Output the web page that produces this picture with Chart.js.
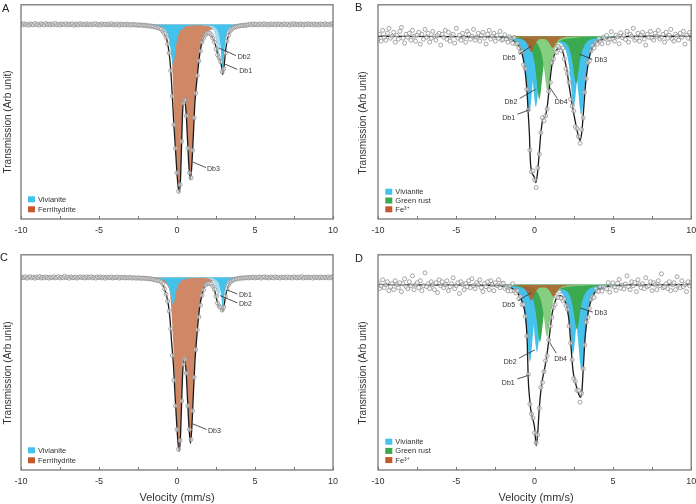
<!DOCTYPE html>
<html><head><meta charset="utf-8">
<script src="https://cdn.jsdelivr.net/npm/chart.js@4/dist/chart.umd.min.js"></script>
<style>
html,body{margin:0;padding:0;background:#fff;overflow:hidden;width:696px;height:504px;}
canvas{position:absolute;}
</style></head><body>
<canvas id="cA" width="346" height="250" style="left:0;top:0;width:346px;height:250px"></canvas>
<canvas id="cB" width="350" height="250" style="left:346px;top:0;width:350px;height:250px"></canvas>
<canvas id="cC" width="346" height="254" style="left:0;top:250px;width:346px;height:254px"></canvas>
<canvas id="cD" width="350" height="254" style="left:346px;top:250px;width:350px;height:254px"></canvas>
<script>
// ---------- DATA ----------
const velocityTickValues = [-10, -5, 0, 5, 10];
const velocityTickLabels = ['-10', '-5', '0', '5', '10'];
const channelStart = -10, channelStep = 0.1;

// measured spectra (transmission, arb. units; baseline = 100)
const countsA = [
100.05,99.95,100.08,99.98,100.02,99.92,100.06,100.0,99.96,100.1,
99.97,100.04,99.93,100.07,100.01,99.95,100.09,99.98,100.03,99.94,
100.06,99.99,100.1,99.96,100.02,99.93,100.05,100.0,99.97,100.08,
99.95,100.03,99.98,100.06,99.92,100.04,100.0,99.96,100.09,99.98,
100.02,99.95,100.07,99.97,100.03,99.94,100.05,99.99,100.08,99.96,
100.01,99.93,100.06,99.98,100.03,99.95,100.04,99.97,100.07,99.94,
100.0,99.96,100.05,99.92,100.03,99.97,100.01,99.94,100.04,99.95,
99.98,99.93,100.02,99.95,99.97,99.91,99.96,99.93,99.9,99.92,
99.9,99.85,99.87,99.82,99.83,99.77,99.76,99.69,99.67,99.58,
99.52,99.28,99.07,98.68,98.02,97.1,95.3,92.7,89.8,87.4,
84.9,83.0,83.7,88.1,92.0,92.3,90.7,87.4,84.9,84.4,
87.2,90.5,93.0,94.8,96.3,97.3,98.2,98.6,98.9,99.1,
99.15,99.1,98.95,98.6,98.2,97.5,96.9,96.6,96.2,95.2,
95.5,97.1,98.3,98.9,99.3,99.5,99.65,99.72,99.78,99.82,
99.85,99.9,99.88,99.93,99.9,99.95,
99.97,100.03,99.95,100.06,99.98,100.02,99.94,100.05,100.0,99.96,
100.08,99.97,100.03,99.93,100.06,99.99,100.02,99.95,100.07,99.98,
100.04,99.94,100.01,100.06,99.96,100.03,99.92,100.05,99.98,100.09,
99.97,100.02,99.95,100.06,100.0,99.94,100.04,99.97,100.08,99.99,
100.03,99.95,100.06,99.98,100.02,99.93,100.05,100.0,99.96,100.07,
99.98,100.03,99.95,100.05,100.1];

const countsB = [
99.7,100.2,99.5,100.6,99.9,99.6,100.3,100.8,99.8,100,
100.4,99.4,100.1,99.7,100.5,100.9,99.8,99.3,100.2,99.9,
100.3,99.6,100.6,100,99.5,100.1,100.4,99.2,100.2,99.7,
100.7,99.9,100.3,99.4,99.8,100.5,100,99.6,100.1,100.3,
99.1,100.2,99.9,100.6,99.7,100.4,99.5,100,100.2,99.3,
100.8,99.8,100.1,99.6,100.3,99.9,99.4,100.5,100.2,99.7,
100,100.7,99.6,99.9,100.3,99.5,100.1,100.4,99.8,99.2,
100.2,100.6,99.7,100,100.3,99.5,100.1,99.8,100.5,99.6,
99.68,100.15,99.72,99.39,99.95,99.68,99.3,99.88,99.22,99.28,
98.8,98.4,98.45,97.1,96.7,94.6,92.5,88.4,86.2,86.3,
85.4,84.6,86.6,88.0,90.2,91.7,91.4,91.9,92.6,94.4,
95.3,97.3,97.7,98.4,98.35,98.98,98.83,98.55,98.8,97.7,
96.7,96.2,95.3,93.6,92.9,92.4,90.8,90.6,89.8,89.1,
90.5,91.7,94.3,95.7,97.3,97.5,98.5,99.05,98.8,99.35,
99.2,99.8,99.47,99.24,99.9,99.74,
100.08,99.31,99.74,100.46,99.68,99.5,100.12,99.93,99.24,100.36,
99.86,100.07,99.67,100.5,99.4,100.2,100,100.8,99.6,99.8,
100.3,99.5,100.1,100.4,99.7,99.1,100.2,99.9,100.5,99.8,
99.6,100.3,100,100.6,99.7,99.9,100.2,99.4,100.4,99.8,
100.1,100.7,99.7,99.5,100.2,100,99.6,100.3,99.9,100.5,
99.2,100.1,99.8,100.4,99.7];

const countsC = [
99.96,100.04,99.98,100.07,99.94,100.02,100.08,99.97,100.03,99.93,
100.05,99.99,100.1,99.95,100.02,99.96,100.06,100.0,99.94,100.04,
99.98,100.07,99.96,100.01,100.09,99.95,100.03,99.97,100.12,99.98,
100.04,99.93,100.06,100.0,99.97,100.05,99.94,100.02,100.07,99.98,
100.03,99.95,100.06,99.97,100.01,100.08,99.96,100.03,99.94,100.05,
99.99,100.06,99.96,100.02,99.93,100.04,100.0,99.97,100.06,99.95,
100.02,99.98,100.05,99.94,100.01,99.97,100.03,99.95,99.99,99.96,
100.01,99.94,99.98,99.96,99.93,99.97,99.94,99.92,99.95,99.92,
99.91,99.9,99.88,99.86,99.84,99.8,99.76,99.72,99.7,99.66,
99.55,99.35,98.85,98.3,97.6,96.6,94.8,92.1,89.6,87.0,
84.6,82.6,83.5,87.5,91.2,91.7,90.3,87.0,84.6,83.6,
86.5,89.9,92.7,94.7,96.0,97.2,98.2,98.75,99.2,99.35,
99.42,99.4,99.35,99.1,98.8,98.1,97.4,97.1,96.95,96.7,
97.0,98.1,98.85,99.25,99.5,99.65,99.75,99.82,99.85,99.9,
99.92,99.95,99.93,99.97,99.95,100.0,
99.96,100.02,99.98,100.05,99.95,100.03,99.99,100.06,99.94,100.02,
100.07,99.97,100.03,99.95,100.05,100.0,99.96,100.08,99.98,100.02,
99.94,100.05,99.99,100.03,99.96,100.07,99.97,100.02,99.95,100.06,
100.0,99.96,100.04,99.98,100.08,99.95,100.03,99.97,100.05,99.99,
100.02,99.94,100.06,99.98,100.03,99.96,100.05,100.0,99.97,100.04,
99.98,100.06,99.96,100.03,100.08];

const countsD = [
100.2,99.6,99.9,100.5,99.7,100,100.3,99.4,99.8,100.1,
99.5,100.4,100,99.7,100.2,99.3,100.1,100.6,99.8,99.6,
100.3,99.9,100.9,99.5,100,100.2,99.7,100.4,99.4,99.9,
101.2,99.8,100.1,99.6,100.3,100,99.5,100.2,99.2,100.5,
99.9,100.3,99.7,100,100.4,99.4,99.8,100.1,100.7,99.6,
99.9,100.2,99.1,100.3,100,99.5,100.1,99.8,100.4,99.7,
100.6,99.9,99.6,100.2,100,100.5,99.7,99.3,100.1,99.8,
100.3,99.5,100.4,100,99.4,100.2,99.9,100.5,99.7,100.1,
100.15,99.63,99.8,99.37,99.83,99.38,100.1,99.4,99.17,99.4,
98.6,98.8,98.0,98.0,96.8,94.8,90.9,87.9,86.9,86.5,
85.0,84.0,84.8,87.5,89.6,90.1,91.2,92.3,92.8,94.4,
95.8,96.7,97.7,98.0,98.8,98.7,99.3,98.65,98.4,98.55,
97.9,97.5,95.8,94.1,92.4,90.5,90.2,89.3,89.3,88.1,
89.0,91.5,93.9,96.2,96.7,97.6,98.5,98.8,98.7,99.6,
99.35,99.33,99.8,99.35,99.8,99.74,
99.58,100.21,99.24,99.86,100.18,99.8,99.42,100.13,100.54,99.66,
99.96,99.57,100.07,100.9,99.8,99.5,100.3,99.9,100.2,99.3,
100.5,100,99.7,100.1,99.6,100.7,99.8,99.9,100.3,99.4,
100.2,100,99.5,100.4,99.9,101.1,99.7,99.8,100.1,99.6,
100.3,99.4,100,100.2,99.5,100.8,99.9,99.7,100.4,99.8,
100,99.3,100.3,99.9,100.2];

// fitted envelopes [velocity, transmission]
const fitA = [[-10,100],[-6,99.99],[-4,99.97],[-3,99.95],[-2,99.88],[-1.5,99.79],[-1.1,99.6],[-0.88,99.27],[-0.68,98.6],[-0.57,97.8],[-0.45,96.3],[-0.35,94.1],[-0.28,92.1],[-0.2,89.8],[-0.09,87.1],[0.02,84.4],[0.13,82.9],[0.22,84.1],[0.3,88.1],[0.36,91.1],[0.47,92.4],[0.58,91.1],[0.68,88.1],[0.77,85.4],[0.86,84.2],[0.94,85.4],[1.05,88.8],[1.15,92.1],[1.26,94.1],[1.37,95.8],[1.47,97.1],[1.62,98.3],[1.79,98.9],[1.97,99.15],[2.15,99.05],[2.3,98.6],[2.45,98.0],[2.56,97.3],[2.65,96.7],[2.76,96.4],[2.87,95.6],[2.93,94.9],[3.02,95.8],[3.12,97.4],[3.25,98.6],[3.4,99.3],[3.6,99.65],[4,99.85],[4.5,99.93],[5,99.96],[7,99.99],[10,100]];
const fitB = [[-10,100],[-5,99.97],[-3,99.93],[-2.1,99.9],[-1.56,99.73],[-1.25,99.4],[-1.03,99.07],[-0.82,98.33],[-0.65,97.0],[-0.5,94.7],[-0.4,92.0],[-0.33,90.0],[-0.27,87.3],[-0.18,86.2],[-0.03,85.7],[0.08,85.1],[0.18,86.0],[0.29,88.0],[0.39,90.0],[0.52,91.5],[0.67,91.8],[0.82,93.0],[0.95,95.0],[1.1,97.0],[1.27,98.2],[1.46,98.73],[1.63,98.83],[1.84,98.2],[2.06,96.5],[2.27,94.3],[2.48,92.3],[2.7,90.5],[2.8,89.8],[2.91,89.4],[3.01,90.2],[3.12,92.3],[3.23,94.7],[3.37,96.7],[3.55,98.2],[3.76,99.0],[4.08,99.5],[4.72,99.83],[5.57,99.97],[7,100],[10,100]];
const fitC = [[-10,100],[-6,99.99],[-4,99.97],[-3,99.95],[-2,99.9],[-1.5,99.8],[-1.1,99.67],[-0.8,98.83],[-0.58,97.5],[-0.45,95.83],[-0.35,93.5],[-0.23,91.2],[-0.13,88.2],[-0.02,85.2],[0.13,82.4],[0.22,83.8],[0.3,87.5],[0.36,90.2],[0.47,91.8],[0.58,90.5],[0.68,87.5],[0.77,84.8],[0.86,83.2],[0.94,84.5],[1.05,88.2],[1.15,91.5],[1.26,93.8],[1.37,95.8],[1.47,97.2],[1.62,98.3],[1.79,99.2],[2.0,99.4],[2.22,99.3],[2.39,98.8],[2.54,97.8],[2.65,97.2],[2.76,97.0],[2.87,96.8],[2.93,96.6],[3.02,97.2],[3.12,98.2],[3.25,99.0],[3.4,99.5],[3.6,99.77],[4.05,99.93],[5,99.97],[7,99.99],[10,100]];
const fitD = [[-10,100],[-5,99.97],[-3,99.93],[-2,99.85],[-1.52,99.7],[-1.1,99.2],[-0.78,98.2],[-0.57,96.6],[-0.47,94.2],[-0.41,90.6],[-0.32,88.5],[-0.24,87.3],[-0.1,86.3],[0.0,85.5],[0.1,83.7],[0.2,85.0],[0.3,87.5],[0.45,89.9],[0.65,91.6],[0.76,92.6],[0.95,94.9],[1.12,97.1],[1.33,98.4],[1.65,98.9],[1.97,98.2],[2.18,96.6],[2.33,93.6],[2.46,91.2],[2.6,90.1],[2.82,88.9],[2.92,88.6],[3.02,89.2],[3.11,91.6],[3.24,94.9],[3.39,96.9],[3.56,98.2],[3.84,99.2],[4.3,99.7],[5,99.88],[6,99.97],[10,100]];

// sub-spectra [velocity, transmission]
const ferrihydriteA = [[-10,100],[-4,99.97],[-3,99.95],[-2,99.9],[-1.5,99.85],[-1.1,99.8],[-0.88,99.7],[-0.68,99.5],[-0.57,99.2],[-0.45,98.6],[-0.35,97.2],[-0.28,95.0],[-0.2,91.5],[-0.09,87.5],[0.02,84.6],[0.13,83.0],[0.22,84.2],[0.3,88.2],[0.36,91.2],[0.47,92.5],[0.58,91.2],[0.68,88.2],[0.77,85.5],[0.86,84.3],[0.94,85.5],[1.05,88.9],[1.15,92.2],[1.26,94.2],[1.37,95.9],[1.47,97.2],[1.62,98.35],[1.79,98.95],[1.94,99.25],[2.2,99.45],[2.5,99.6],[3,99.75],[3.5,99.85],[4,99.9],[5,99.95],[7,99.98],[10,100]];
const vivianiteDb1A = [[-10,100],[-3,99.98],[-1.45,99.89],[-0.85,99.58],[-0.6,98.97],[-0.45,97.9],[-0.35,96.64],[-0.25,95.8],[-0.15,96.64],[-0.05,97.9],[0.1,98.97],[0.35,99.58],[0.95,99.89],[1.5,99.93],[2.03,99.9],[2.48,99.63],[2.68,98.98],[2.8,97.6],[2.865,96.16],[2.93,95.2],[2.995,96.16],[3.06,97.6],[3.18,98.98],[3.38,99.63],[3.83,99.9],[5,99.98],[10,100]];
const vivianiteDb2A = [[-10,100],[1.0,99.98],[1.65,99.93],[2.15,99.74],[2.37,99.31],[2.5,98.45],[2.575,97.52],[2.65,96.9],[2.725,97.52],[2.8,98.45],[2.93,99.31],[3.15,99.74],[3.65,99.93],[5,99.99],[10,100]];

const ferrihydriteC = [[-10,100],[-4,99.97],[-3,99.95],[-2,99.9],[-1.5,99.85],[-1.1,99.78],[-0.8,99.5],[-0.58,99.1],[-0.45,98.4],[-0.35,96.5],[-0.23,93.0],[-0.13,89.0],[-0.02,85.5],[0.13,82.6],[0.22,84.0],[0.3,87.7],[0.36,90.4],[0.47,92.0],[0.58,90.7],[0.68,87.7],[0.77,85.0],[0.86,83.4],[0.94,84.7],[1.05,88.4],[1.15,91.7],[1.26,94.0],[1.37,96.0],[1.47,97.35],[1.62,98.45],[1.79,99.3],[2.0,99.52],[2.2,99.6],[2.5,99.7],[3,99.8],[3.5,99.87],[4,99.91],[5,99.95],[7,99.98],[10,100]];
const vivianiteDb1C = [[-10,100],[-3,99.99],[-1.45,99.92],[-0.85,99.72],[-0.6,99.31],[-0.45,98.6],[-0.35,97.76],[-0.25,97.2],[-0.15,97.76],[-0.05,98.6],[0.1,99.31],[0.35,99.72],[0.95,99.92],[1.5,99.95],[2.03,99.94],[2.48,99.77],[2.68,99.36],[2.8,98.5],[2.865,97.6],[2.93,97.0],[2.995,97.6],[3.06,98.5],[3.18,99.36],[3.38,99.77],[3.83,99.94],[5,99.99],[10,100]];
const vivianiteDb2C = [[-10,100],[1.0,99.99],[1.65,99.95],[2.15,99.83],[2.37,99.53],[2.5,98.95],[2.575,98.32],[2.65,97.9],[2.725,98.32],[2.8,98.95],[2.93,99.53],[3.15,99.83],[3.65,99.95],[5,99.99],[10,100]];

const vivianiteDb1B = [[-10,100],[-3,99.97],[-1.53,99.65],[-0.93,98.78],[-0.68,97.26],[-0.53,95.16],[-0.43,93.29],[-0.33,92.3],[-0.23,93.29],[-0.13,95.16],[0.02,97.26],[0.27,98.78],[0.87,99.65],[1.78,99.53],[2.38,98.4],[2.63,96.61],[2.78,94.46],[2.88,92.8],[2.98,92.0],[3.08,92.8],[3.18,94.46],[3.33,96.61],[3.58,98.4],[4.18,99.53],[6,99.97],[10,100]];
const vivianiteDb2B = [[-10,100],[-3,99.97],[-1.12,99.68],[-0.52,98.86],[-0.27,97.44],[-0.12,95.48],[-0.02,93.73],[0.08,92.8],[0.18,93.73],[0.28,95.48],[0.43,97.44],[0.68,98.86],[1.29,99.4],[1.9,98.86],[2.15,97.44],[2.3,95.48],[2.4,93.73],[2.5,92.8],[2.6,93.73],[2.7,95.48],[2.85,97.44],[3.1,98.86],[3.7,99.68],[6,99.97],[10,100]];
const greenRustB = [[-10,100],[-3,99.97],[-0.9,99.71],[-0.3,98.99],[-0.05,97.72],[0.1,95.98],[0.2,94.43],[0.3,93.6],[0.4,94.43],[0.5,95.98],[0.65,97.72],[0.9,98.99],[1.47,99.5],[2.05,99.24],[2.3,98.29],[2.45,96.99],[2.55,95.82],[2.65,95.2],[2.75,95.82],[2.85,96.99],[3.0,98.29],[3.25,99.24],[3.85,99.78],[6,99.97],[10,100]];
const greenRustDb4B = [[-10,100],[-3,99.97],[-0.38,99.75],[0.22,99.13],[0.47,98.04],[0.62,96.55],[0.72,95.21],[0.82,94.5],[0.92,95.21],[1.02,96.55],[1.17,98.04],[1.42,99.13],[2.02,99.75],[5,99.98],[10,100]];
const ferricB = [[-10,100],[-3,99.98],[-1.42,99.93],[-0.82,99.75],[-0.57,99.43],[-0.42,99.0],[-0.32,98.61],[-0.22,98.4],[-0.12,98.61],[-0.02,99.0],[0.13,99.43],[0.38,99.72],[0.55,99.72],[0.8,99.57],[0.95,99.25],[1.05,98.95],[1.15,98.8],[1.25,98.95],[1.35,99.25],[1.5,99.57],[1.75,99.81],[2.35,99.95],[5,99.99],[10,100]];

const vivianiteDb1D = [[-10,100],[-3,99.97],[-1.5,99.65],[-0.9,98.77],[-0.65,97.22],[-0.5,95.1],[-0.4,93.21],[-0.3,92.2],[-0.2,93.21],[-0.1,95.1],[0.05,97.22],[0.3,98.77],[0.9,99.65],[1.8,99.49],[2.4,98.4],[2.65,96.31],[2.8,93.98],[2.9,92.17],[3.0,91.3],[3.1,92.17],[3.2,93.98],[3.35,96.31],[3.6,98.5],[4.2,99.49],[6,99.97],[10,100]];
const vivianiteDb2D = [[-10,100],[-3,99.97],[-1.05,99.69],[-0.45,98.93],[-0.2,97.58],[-0.05,95.73],[0.05,94.08],[0.15,93.2],[0.25,94.08],[0.35,95.73],[0.5,97.58],[0.75,98.93],[1.3,99.4],[1.85,98.89],[2.1,97.51],[2.25,95.6],[2.35,93.9],[2.45,93.0],[2.55,93.9],[2.65,95.6],[2.8,97.51],[3.05,98.89],[3.65,99.68],[6,99.97],[10,100]];
const greenRustD = [[-10,100],[-3,99.97],[-0.86,99.74],[-0.26,99.08],[-0.01,97.94],[0.14,96.36],[0.24,94.95],[0.34,94.2],[0.44,94.95],[0.54,96.36],[0.69,97.94],[0.94,99.08],[1.52,99.55],[2.1,99.29],[2.35,98.4],[2.5,97.17],[2.6,96.08],[2.7,95.5],[2.8,96.08],[2.9,97.17],[3.05,98.4],[3.3,99.29],[3.9,99.8],[6,99.97],[10,100]];
const greenRustDb4D = [[-10,100],[-3,99.97],[-0.4,99.76],[0.2,99.16],[0.45,98.11],[0.6,96.67],[0.7,95.38],[0.8,94.7],[0.9,95.38],[1.0,96.67],[1.15,98.11],[1.4,99.16],[2.0,99.76],[5,99.98],[10,100]];
const ferricD = [[-10,100],[-3,99.98],[-1.42,99.93],[-0.82,99.75],[-0.57,99.43],[-0.42,99.0],[-0.32,98.61],[-0.22,98.4],[-0.12,98.61],[-0.02,99.0],[0.13,99.43],[0.38,99.72],[0.6,99.72],[0.85,99.57],[1.0,99.25],[1.1,98.95],[1.2,98.8],[1.3,98.95],[1.4,99.25],[1.55,99.57],[1.8,99.81],[2.4,99.95],[5,99.99],[10,100]];

// ---------- STYLE ----------
const FONT = '"Liberation Sans", Arial, sans-serif';
const COL = {
  viv: '#45c2ec', vivPale: '#a6ddf2',
  ferriFill: '#d08766', ferriKey: '#c25a2e',
  grDark: '#3aa94f', grLight: '#86cf80', grKey: '#3aa94f',
  feFill: 'rgba(176,92,40,0.82)', feKey: '#c0592b'
};
const minorTickValues = [-10,-7.5,-5,-2.5,0,2.5,5,7.5,10];

const decoPlugin = {
  id: 'deco',
  afterDatasetsDraw(chart, args, o) {
    const ctx = chart.ctx, a = chart.chartArea, xs = chart.scales.x, ys = chart.scales.y;
    const X = v => xs.getPixelForValue(v), Y = v => ys.getPixelForValue(v);
    ctx.save();
    ctx.strokeStyle = '#2a2a2a'; ctx.lineWidth = 0.8;
    ctx.font = '7px ' + FONT; ctx.fillStyle = '#333'; ctx.textBaseline = 'middle';
    for (const n of o.notes) {
      ctx.beginPath(); ctx.moveTo(X(n.from[0]), Y(n.from[1])); ctx.lineTo(X(n.to[0]), Y(n.to[1])); ctx.stroke();
      ctx.textAlign = n.align; ctx.fillText(n.text, X(n.at[0]), Y(n.at[1]));
    }
    const L = o.legend;
    ctx.font = '7.5px ' + FONT; ctx.textAlign = 'left';
    L.items.forEach((it, i) => {
      const cy = a.bottom + L.y + i * L.dy;
      ctx.fillStyle = it.c; ctx.fillRect(a.left + L.x, cy - 3, 7, 6);
      ctx.fillStyle = '#333'; ctx.fillText(it.t, a.left + L.x + 10, cy + 0.5);
    });
    ctx.strokeStyle = '#777'; ctx.lineWidth = 1.3;
    ctx.strokeRect(a.left, a.top, a.right - a.left, a.bottom - a.top);
    ctx.lineWidth = 1;
    for (const t of minorTickValues) {
      const px = Math.round(X(t)) + 0.5;
      ctx.beginPath(); ctx.moveTo(px, a.bottom); ctx.lineTo(px, a.bottom - 3); ctx.stroke();
    }
    ctx.fillStyle = '#222'; ctx.font = '11px ' + FONT; ctx.textAlign = 'left'; ctx.textBaseline = 'top';
    ctx.fillText(o.letter, o.letterPos[0], o.letterPos[1]);
    ctx.save();
    ctx.translate(o.yTitlePos[0], o.yTitlePos[1]); ctx.rotate(-Math.PI / 2);
    ctx.font = '10px ' + FONT; ctx.fillStyle = '#333'; ctx.textAlign = 'center'; ctx.textBaseline = 'middle';
    ctx.fillText('Transmission (Arb unit)', 0, 0);
    ctx.restore();
    if (o.xTitlePos) {
      ctx.font = '11px ' + FONT; ctx.fillStyle = '#333'; ctx.textAlign = 'center'; ctx.textBaseline = 'middle';
      ctx.fillText('Velocity (mm/s)', o.xTitlePos[0], o.xTitlePos[1]);
    }
    ctx.restore();
  }
};

const pts = arr => arr.map(p => ({x: p[0], y: p[1]}));
const channels = vals => vals.map((y, i) => ({x: Math.round((channelStart + i * channelStep) * 100) / 100, y}));

function panel(id, W, H, box, yRange, counts, fit, comps, deco) {
  const datasets = [
    {data: channels(counts), showLine: false, pointRadius: 2, pointBorderWidth: 0.8,
     pointBorderColor: '#8e8e8e', pointBackgroundColor: 'rgba(255,255,255,0.55)', order: 0},
    {data: pts(fit), borderColor: '#1a1a1a', borderWidth: 1.3, pointRadius: 0, fill: false,
     cubicInterpolationMode: 'monotone', order: 1}
  ];
  comps.forEach(c => datasets.push({data: pts(c.d), backgroundColor: c.color, borderWidth: 0, borderColor: 'rgba(0,0,0,0)',
    pointRadius: 0, fill: {value: 100}, cubicInterpolationMode: 'monotone', order: c.order}));
  new Chart(document.getElementById(id), {
    type: 'line',
    data: {datasets},
    options: {
      responsive: false, animation: false, devicePixelRatio: 1,
      layout: {padding: {left: box.l, right: W - box.r, top: box.t, bottom: 0}},
      scales: {
        x: {type: 'linear', min: -10, max: 10, grid: {display: false, drawTicks: false, tickLength: 0}, border: {display: false},
            ticks: {stepSize: 5, padding: 6.5, color: '#333', maxRotation: 0, font: {family: FONT, size: 9},
                    callback: v => { const k = velocityTickValues.indexOf(v); return k < 0 ? '' : velocityTickLabels[k]; }},
            afterFit: s => { s.height = H - box.b; s.paddingLeft = 0; s.paddingRight = 0; }},
        y: {display: false, min: yRange[0], max: yRange[1]}
      },
      plugins: {legend: {display: false}, tooltip: {enabled: false}, deco}
    },
    plugins: [decoPlugin]
  });
}

const legendAC = [{c: COL.viv, t: 'Vivianite'}, {c: COL.ferriKey, t: 'Ferrihydrite'}];
const legendBD = [{c: COL.viv, t: 'Vivianite'}, {c: COL.grKey, t: 'Green rust'}, {c: COL.feKey, t: 'Fe\u00B3\u207A'}];

panel('cA', 346, 250, {l: 21, r: 333, t: 1, b: 219}, [80.2, 102.0], countsA, fitA, [
  {d: ferrihydriteA, color: COL.ferriFill, order: 7},
  {d: vivianiteDb2A, color: COL.vivPale, order: 6},
  {d: vivianiteDb1A, color: COL.viv, order: 5}
], {
  letter: 'A', letterPos: [2, 3], yTitlePos: [8, 122],
  legend: {x: 7, y: -19.7, dy: 10, items: legendAC},
  notes: [
    {from: [2.69, 97.6], to: [3.78, 96.83], at: [3.89, 96.72], text: 'Db2', align: 'left'},
    {from: [3.01, 96.0], to: [3.87, 95.43], at: [3.99, 95.27], text: 'Db1', align: 'left'},
    {from: [1.01, 86.0], to: [1.86, 85.43], at: [1.92, 85.27], text: 'Db3', align: 'left'}
  ]
});

panel('cB', 350, 250, {l: 32, r: 346, t: 1, b: 219}, [81.4, 103.2], countsB, fitB, [
  {d: vivianiteDb2B, color: COL.viv, order: 6},
  {d: vivianiteDb1B, color: COL.viv, order: 5},
  {d: greenRustB, color: COL.grDark, order: 4},
  {d: greenRustDb4B, color: COL.grLight, order: 3},
  {d: ferricB, color: COL.feFill, order: 2}
], {
  letter: 'B', letterPos: [9, 2], yTitlePos: [17, 123],
  legend: {x: 7.3, y: -27.3, dy: 8.8, items: legendBD},
  notes: [
    {from: [-0.21, 99.0], to: [-1.0, 98.16], at: [-1.21, 97.73], text: 'Db5', align: 'right'},
    {from: [2.89, 98.16], to: [3.68, 97.66], at: [3.82, 97.6], text: 'Db3', align: 'left'},
    {from: [0.06, 94.6], to: [-0.96, 93.66], at: [-1.1, 93.26], text: 'Db2', align: 'right'},
    {from: [0.96, 94.83], to: [1.45, 93.66], at: [1.7, 93.26], text: 'Db4', align: 'center'},
    {from: [-0.34, 92.5], to: [-1.1, 92.06], at: [-1.25, 91.66], text: 'Db1', align: 'right'}
  ]
});

panel('cC', 346, 254, {l: 21, r: 333, t: 2, b: 220}, [80.5, 102.3], countsC, fitC, [
  {d: ferrihydriteC, color: COL.ferriFill, order: 7},
  {d: vivianiteDb2C, color: COL.vivPale, order: 6},
  {d: vivianiteDb1C, color: COL.viv, order: 5}
], {
  letter: 'C', letterPos: [0, 2], yTitlePos: [8, 123], xTitlePos: [177, 248],
  legend: {x: 7, y: -19.7, dy: 10, items: legendAC},
  notes: [
    {from: [3.22, 98.73], to: [3.87, 98.33], at: [3.97, 98.23], text: 'Db1', align: 'left'},
    {from: [2.76, 98.17], to: [3.87, 97.43], at: [3.97, 97.27], text: 'Db2', align: 'left'},
    {from: [1.01, 85.17], to: [1.9, 84.6], at: [1.99, 84.47], text: 'Db3', align: 'left'}
  ]
});

panel('cD', 350, 254, {l: 32, r: 346, t: 2, b: 220}, [81.23, 103.03], countsD, fitD, [
  {d: vivianiteDb2D, color: COL.viv, order: 6},
  {d: vivianiteDb1D, color: COL.viv, order: 5},
  {d: greenRustD, color: COL.grDark, order: 4},
  {d: greenRustDb4D, color: COL.grLight, order: 3},
  {d: ferricD, color: COL.feFill, order: 2}
], {
  letter: 'D', letterPos: [9, 3], yTitlePos: [17, 123], xTitlePos: [190, 248],
  legend: {x: 7.3, y: -28.3, dy: 9.2, items: legendBD},
  notes: [
    {from: [-0.25, 99.16], to: [-1.04, 98.4], at: [-1.25, 97.96], text: 'Db5', align: 'right'},
    {from: [2.93, 97.63], to: [3.71, 97.23], at: [3.82, 97.13], text: 'Db3', align: 'left'},
    {from: [0.02, 93.4], to: [-1.0, 92.56], at: [-1.15, 92.13], text: 'Db2', align: 'right'},
    {from: [0.96, 94.16], to: [1.38, 93.06], at: [1.66, 92.5], text: 'Db4', align: 'center'},
    {from: [-0.36, 90.83], to: [-1.1, 90.46], at: [-1.27, 90.06], text: 'Db1', align: 'right'}
  ]
});
</script>
</body></html>
